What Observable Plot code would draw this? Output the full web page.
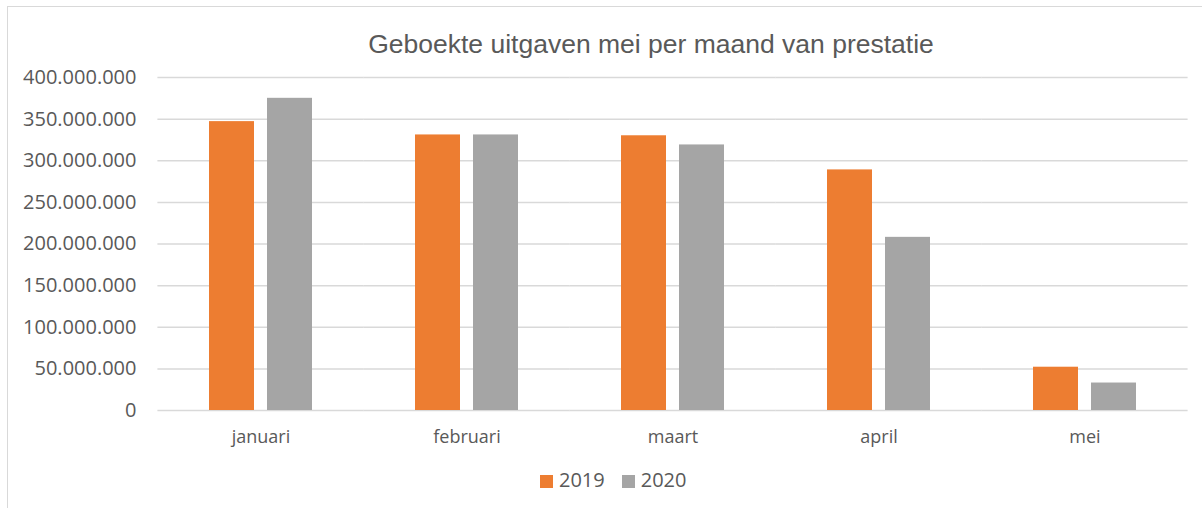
<!DOCTYPE html>
<html>
<head>
<meta charset="utf-8">
<script src="https://cdn.jsdelivr.net/npm/d3@7"></script>
<script src="https://cdn.jsdelivr.net/npm/@observablehq/plot@0.6"></script>
<style>
  html, body { margin: 0; padding: 0; background: #fff; overflow: hidden; }
  #wrap { position: relative; width: 1202px; height: 508px; overflow: hidden; background: #fff; }
  #border { position: absolute; left: 7px; top: 6px; width: 1300px; height: 600px; border: 1.5px solid #d9d9d9; box-sizing: border-box; }
  #chart { position: absolute; left: 0; top: 0; }
  #title { position: absolute; left: 351px; width: 600px; top: 31px; text-align: center;
           font-family: "Liberation Sans", Arial, sans-serif; font-size: 26.5px; line-height: 1; color: #595959; white-space: nowrap; }
  #legend { position: absolute; left: 540px; top: 470px; height: 20px; display: flex; align-items: center;
            font-family: "Open Sans", sans-serif; font-size: 20px; line-height: 20px; color: #595959; }
  .item { display: flex; align-items: center; margin-right: 17px; }
  .sw { width: 13px; height: 13px; margin-right: 6px; position: relative; top: 1px; }
</style>
</head>
<body>
<div id="wrap">
  <div id="border"></div>
  <div id="chart"></div>
  <div id="title"></div>
  <div id="legend"></div>
</div>
<script>
const title = "Geboekte uitgaven mei per maand van prestatie";
const months = ["januari", "februari", "maart", "april", "mei"];
const years = ["2019", "2020"];
const colors = ["#ED7D31", "#A5A5A5"];
const v2019 = [347e6, 331e6, 330e6, 289e6, 52e6];
const v2020 = [375e6, 331e6, 319e6, 208e6, 33e6];
const yTicks = [0, 50e6, 100e6, 150e6, 200e6, 250e6, 300e6, 350e6, 400e6];

const data = months.flatMap((m, i) => [
  {month: m, year: years[0], value: v2019[i]},
  {month: m, year: years[1], value: v2020[i]}
]);

const nl = d3.formatLocale({decimal: ",", thousands: ".", grouping: [3], currency: ["€", ""]});
const fmt = nl.format(",d");

const plot = Plot.plot({
  width: 1202,
  height: 508,
  marginTop: 77,
  marginBottom: 98,
  marginLeft: 157,
  marginRight: 14,
  style: {fontFamily: "'Open Sans', sans-serif", color: "#595959", background: "transparent", overflow: "visible"},
  fx: {domain: months, paddingInner: 0.49, paddingOuter: 0.245, label: null},
  x: {domain: years, paddingInner: 0.22, paddingOuter: 0, axis: null},
  y: {domain: [0, 400e6], label: null},
  color: {domain: years, range: colors},
  marks: [
    Plot.ruleY(yTicks, {stroke: "#d9d9d9", strokeWidth: 1.5, insetLeft: -50.6, insetRight: -50.6}),
    Plot.barY(data, {fx: "month", x: "year", y: "value", fill: "year"}),
    Plot.axisY({ticks: yTicks, tickFormat: fmt, tickSize: 0, tickPadding: 72, label: null, fontSize: 20}),
    Plot.axisFx({anchor: "bottom", tickSize: 0, tickPadding: 20, label: null, fontSize: 18})
  ]
});
document.getElementById("chart").appendChild(plot);
document.getElementById("title").textContent = title;

const legend = document.getElementById("legend");
years.forEach((y, i) => {
  const item = document.createElement("div");
  item.className = "item";
  const sw = document.createElement("div");
  sw.className = "sw";
  sw.style.background = colors[i];
  const lab = document.createElement("span");
  lab.textContent = y;
  item.appendChild(sw);
  item.appendChild(lab);
  legend.appendChild(item);
});
</script>
</body>
</html>
